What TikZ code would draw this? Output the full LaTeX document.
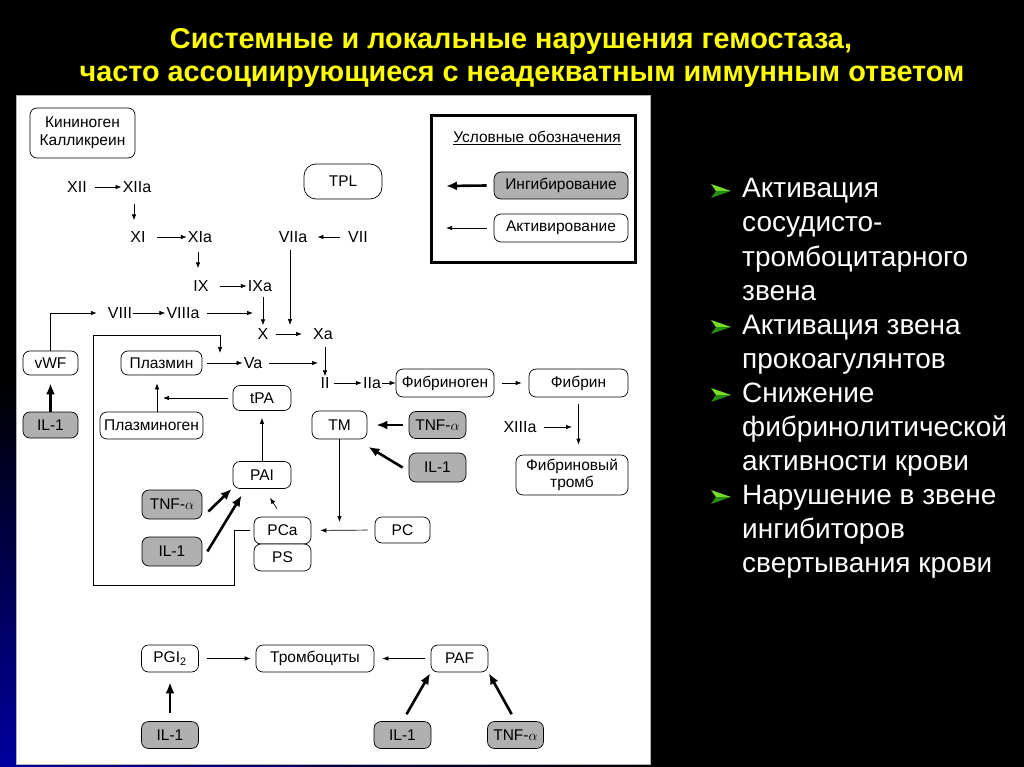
\documentclass[tikz,border=0pt]{standalone}
\usepackage{fontspec}
\setmainfont{Liberation Sans}
\usetikzlibrary{arrows.meta,calc}
\definecolor{titley}{RGB}{255,255,0}
\definecolor{boxgray}{RGB}{176,176,176}
\definecolor{bulletgreen}{RGB}{120,220,40}
\definecolor{bulletdark}{RGB}{40,140,20}
\definecolor{deepblue}{RGB}{0,0,160}
\newcommand\bularrow[1]{%
  \fill[bulletgreen] (711,{#1-7}) -- (731,#1) -- (716,#1) -- cycle;
  \fill[bulletdark] (711,{#1+7}) -- (731,#1) -- (716,#1) -- cycle;}
\begin{document}
\begin{tikzpicture}[x=1pt,y=-1pt,
  lbl/.style={inner sep=1pt, font=\fontsize{16}{18}\selectfont},
  box/.style={draw, line width=0.7pt, rounded corners=7pt, fill=white, inner sep=1pt,
    font=\fontsize{15.5}{17.5}\selectfont, align=center},
  gbox/.style={box, fill=boxgray},
  sz/.style 2 args={minimum width=#1pt, minimum height=#2pt},
  act/.style={-{Latex[length=6pt,width=4.5pt]}, line width=0.7pt},
  inh/.style={-{Latex[length=11pt,width=9pt]}, line width=2.6pt},
  ttl/.style={text=titley, font=\fontsize{28.8}{34}\selectfont\bfseries, inner sep=0pt, anchor=base},
  btxt/.style={text=white, font=\fontsize{28}{34}\selectfont, inner sep=0pt, anchor=base west}]
\useasboundingbox (0,0) rectangle (1024,767);
% background
\fill[black] (0,0) rectangle (1024,767);
\shade[top color=black, bottom color=deepblue] (0,380) rectangle (16,767);
\shade[left color=deepblue, right color=black] (0,763) rectangle (650,767);
\fill[white] (16,95) rectangle (650,764);
\draw[gray!60, line width=0.8pt] (16,95) rectangle (650,764);
% title
\node[ttl] (t1) at (511,49) {Системные и локальные нарушения гемостаза,};
\node[ttl] (t2) at (522,82) {часто ассоциирующиеся с неадекватным иммунным ответом};
% bullets
\bularrow{191}\bularrow{327}\bularrow{395}\bularrow{497}
\node[btxt] (b1) at (742,198) {Активация};
\node[btxt] (b2) at (742,232) {сосудисто-};
\node[btxt] (b3) at (742,266) {тромбоцитарного};
\node[btxt] (b4) at (742,300) {звена};
\node[btxt] (b5) at (742,334) {Активация звена};
\node[btxt] (b6) at (742,368) {прокоагулянтов};
\node[btxt] (b7) at (742,402) {Снижение};
\node[btxt] (b8) at (742,436) {фибринолитической};
\node[btxt] (b9) at (742,470) {активности крови};
\node[btxt] (b10) at (742,504) {Нарушение в звене};
\node[btxt] (b11) at (742,538) {ингибиторов};
\node[btxt] (b12) at (742,572) {свертывания крови};
% legend
\node[draw, line width=3pt, sz={204}{147}] (legend) at (533.5,189) {};
\node[inner sep=0pt, font=\fontsize{15.5}{17}\selectfont] (legtitle) at (537,138) {\underline{Условные обозначения}};
\node[gbox, sz={134}{27}] (leginh) at (561,185.5) {Ингибирование};
\node[box, sz={134}{28}] (legact) at (561,228) {Активирование};
\coordinate (leginhtip) at (446,186);
\coordinate (legacttip) at (446,228);
\draw[inh] ([xshift=-7pt]leginh.west) -- (leginhtip);
\draw[act] ([xshift=-7pt]legact.west) -- (legacttip);
% boxes
\node[box, sz={105}{50}] (kin) at (82.5,133) {Кининоген\\Калликреин};
\node[box, sz={78}{35}, rounded corners=12pt] (tpl) at (343,181.5) {TPL};
\node[box, sz={55}{24}] (vwf) at (50.5,363) {vWF};
\node[gbox, sz={55}{26}] (il1a) at (50.5,425) {IL-1};
\node[box, sz={81}{24}] (plasmin) at (161.5,363) {Плазмин};
\node[box, sz={98}{28}] (fibrinogen) at (445,383) {Фибриноген};
\node[box, sz={99}{28}] (fibrin) at (578.5,383) {Фибрин};
\node[box, sz={58}{25}] (tpa) at (262,398) {tPA};
\node[box, sz={103}{27}] (plasminogen) at (151.5,425.5) {Плазминоген};
\node[box, sz={55}{28}] (tm) at (339.5,425) {TM};
\node[gbox, sz={57}{27}] (tnf1) at (437.5,425) {TNF-$\alpha$};
\node[gbox, sz={57}{29}] (il1b) at (437.5,467.5) {IL-1};
\node[box, sz={112}{40}] (thromb) at (572,475) {Фибриновый\\тромб};
\node[box, sz={58}{27}] (pai) at (262,475) {PAI};
\node[gbox, sz={60}{29}] (tnf2) at (172,504.5) {TNF-$\alpha$};
\node[gbox, sz={60}{29}] (il1c) at (172,551.5) {IL-1};
\node[box, sz={57}{27}] (pca) at (282.5,530.5) {PCa};
\node[box, sz={57}{27}] (ps) at (282.5,557.5) {PS};
\node[box, sz={55}{26}] (pc) at (402.5,530) {PC};
\node[box, sz={57}{27}] (pgi) at (170,658.5) {PGI\textsubscript{2}};
\node[box, sz={118}{27}] (platelets) at (315,658.5) {Тромбоциты};
\node[box, sz={57}{27}] (paf) at (459.5,658.5) {PAF};
\node[gbox, sz={57}{27}] (il1d) at (170,735) {IL-1};
\node[gbox, sz={57}{27}] (il1e) at (402.5,735) {IL-1};
\node[gbox, sz={56}{27}] (tnf3) at (515.5,735) {TNF-$\alpha$};
% factor labels
\node[lbl] (xii) at (77,187) {XII};
\node[lbl] (xiia) at (137,187) {XIIa};
\node[lbl] (xi) at (138,237) {XI};
\node[lbl] (xia) at (200,237) {XIa};
\node[lbl] (ix) at (201,286) {IX};
\node[lbl] (ixa) at (260,286) {IXa};
\node[lbl] (viia) at (293,237) {VIIa};
\node[lbl] (vii) at (358,237) {VII};
\node[lbl] (viii) at (120,313) {VIII};
\node[lbl] (viiia) at (183,313) {VIIIa};
\node[lbl] (x) at (263,334) {X};
\node[lbl] (xa) at (323,334) {Xa};
\node[lbl] (va) at (253,363) {Va};
\node[lbl] (ii) at (325,383) {II};
\node[lbl] (iia) at (372,383) {IIa};
\node[lbl] (xiiia) at (520,427) {XIIIa};
% free ends
\coordinate (viiatip) at (290,325);
\coordinate (viiiatip) at (253,313);
\coordinate (vatip) at (318,363);
\coordinate (xiiiatip) at (572,427);
\coordinate (tpatip) at (163,398);
\coordinate (tmtip) at (339.5,522);
\coordinate (fbtip) at (220,353);
% cascade connectors
\draw[act, shorten <=7pt] (xii) -- (xiia);
\draw[act, shorten <=10pt, shorten >=10pt] ([xshift=-3pt]xiia.south) -- ([xshift=-3pt]xiia.south |- xi.north);
\draw[act, shorten <=10pt] (xi) -- (xia);
\draw[act, shorten <=8pt, shorten >=11pt] ([xshift=-2pt]xia.south) -- ([xshift=-2pt]xia.south |- ix.north);
\draw[act, shorten <=10pt] (ix) -- (ixa);
\draw[act, shorten <=7pt, shorten >=9pt] (vii) -- (viia);
\draw[act, shorten <=6pt] ([xshift=-3pt]viia.south) -- (viiatip);
\draw[act] (viii) -- (viiia);
\draw[act, shorten <=6pt] (viiia) -- (viiiatip);
\draw[act, shorten >=10pt] (vwf.north) |- (viii.west);
\draw[act, shorten <=4pt, shorten >=2pt] (x.north |- ixa.south) -- (x.north);
\draw[act, shorten <=6pt, shorten >=10pt] (x) -- (xa);
\draw[act, shorten <=6pt] (ii.north |- xa.south) -- (ii.north);
\draw[act, shorten <=5pt] (plasmin) -- (va);
\draw[act, shorten <=6pt] (va) -- (vatip);
\draw[act, shorten <=3pt] (ii) -- (iia);
\draw[act] (iia) -- (fibrinogen);
\draw[act, shorten <=8pt, shorten >=7pt] (fibrinogen) -- (fibrin);
\draw[act, shorten <=7pt, shorten >=10pt] (fibrin.south) -- (fibrin.south |- thromb.north);
\draw[act, shorten <=6pt] (xiiia) -- (xiiiatip);
% fibrinolysis
\draw[act, shorten <=5pt] (tpa.west) -- (tpatip);
\draw[act, shorten >=8pt] ([xshift=5.5pt]plasminogen.north) -- ([xshift=5.5pt]plasminogen.north |- plasmin.south);
\draw[act, shorten >=7pt] (pai.north) -- (tpa.south);
\draw[inh, shorten >=8pt] (il1a.north) -- (vwf.south);
\draw[inh] ($(tnf2.east)+(6,7)$) -- ($(pai.south west)+(-1,0)$);
\draw[inh] ($(il1c.east)+(5,0)$) -- ($(pai.south west)+(9,6.5)$);
\draw[act] ($(pca.north)+(-5.5,-8)$) -- ($(pai.south)+(8,9)$);
% thrombomodulin / protein C
\draw[inh, shorten <=6pt, shorten >=9pt] (tnf1.west) -- (tm.east);
\draw[inh] ($(il1b.west)+(-6,0)$) -- ($(tm.south east)+(1,7.5)$);
\draw[act] (tm.south) -- (tmtip);
\draw[act, shorten <=7pt, shorten >=9pt] (pc.west) -- (pca.east);
\draw[act] ([xshift=-4pt]pca.west) -- (234,530.5) -- (234,585) -- (93,585) -- (93,335) -- (220,335) -- (fbtip);
% platelets
\draw[act, shorten <=8pt, shorten >=5pt] (pgi) -- (platelets);
\draw[act, shorten <=6pt, shorten >=8pt] (paf) -- (platelets);
\draw[inh, shorten <=8pt, shorten >=10pt] (il1d.north) -- (pgi.south);
\draw[inh, shorten <=8pt, shorten >=1pt] (il1e.north) -- (paf.south west);
\draw[inh, shorten <=8pt, shorten >=1pt] (tnf3.north) -- (paf.south east);
\end{tikzpicture}
\end{document}
